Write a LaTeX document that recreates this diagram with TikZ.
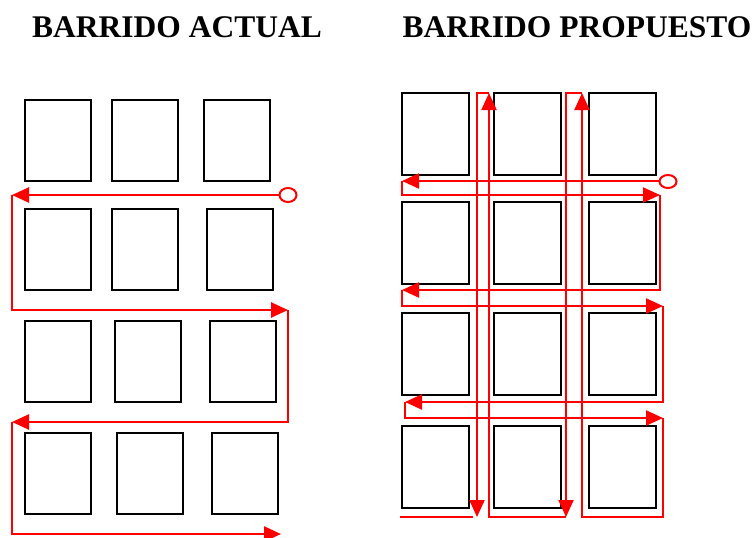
\documentclass[tikz,border=0pt]{standalone}
\usepackage{fontspec}
\setmainfont{Liberation Serif}
\usetikzlibrary{arrows.meta}
\begin{document}
\begin{tikzpicture}[x=1pt,y=-1pt,
  lbox/.style={draw=black,line width=2pt,minimum width=66pt,minimum height=81pt,inner sep=0pt},
  rbox/.style={draw=black,line width=2pt,minimum width=67pt,minimum height=82pt,inner sep=0pt},
  lpath/.style={draw=red,line width=2.6pt,line join=miter},
  rpath/.style={draw=red,line width=2.1pt,line join=miter},
  larr/.style={-{Triangle[length=17pt,width=15pt]}},
  rarr/.style={-{Triangle[length=17pt,width=15pt]}},
  ttl/.style={font=\fontsize{31.5}{36}\selectfont\bfseries,inner sep=0pt,anchor=base}
]
\useasboundingbox (0,0) rectangle (755,538);
% titles
\node[ttl] (t1) at (177,37) {BARRIDO ACTUAL};
\node[ttl] (t2) at (577,37) {BARRIDO PROPUESTO};
% left boxes
\node[lbox] (L11) at (58,140.5) {};
\node[lbox] (L12) at (145,140.5) {};
\node[lbox] (L13) at (237,140.5) {};
\node[lbox] (L21) at (58,249) {};
\node[lbox] (L22) at (145,249) {};
\node[lbox] (L23) at (240,249) {};
\node[lbox] (L31) at (58,361.5) {};
\node[lbox] (L32) at (148,361.5) {};
\node[lbox] (L33) at (243,361.5) {};
\node[lbox] (L41) at (58,473.5) {};
\node[lbox] (L42) at (150,473.5) {};
\node[lbox] (L43) at (245,473.5) {};
% left path
\coordinate (a0) at (279.5,195);
\coordinate (a1) at (12,195);
\coordinate (a2) at (12,310);
\coordinate (a3) at (288,310);
\coordinate (a4) at (288,422);
\coordinate (a5) at (12,422);
\coordinate (a6) at (12,534);
\coordinate (a7) at (281,534);
\draw[red,line width=2pt] (288,195) ellipse [x radius=8.5pt,y radius=7pt];
\draw[lpath,larr] (a0) -- (a1);
\draw[lpath,larr] (a1) -- (a2) -- (a3);
\draw[lpath,larr] (a3) -- (a4) -- (a5);
\draw[lpath,larr] (a5) -- (a6) -- (a7);
% right boxes
\foreach \c/\x in {1/435.5,2/527.5,3/622.5}{
  \foreach \r/\y in {1/134,2/242.5,3/354,4/466.5}{
    \node[rbox] (R\r\c) at (\x,\y) {};
  }
}
% right path
\coordinate (b0) at (659.5,181);
\coordinate (b1) at (402,181);
\coordinate (b2) at (402,195);
\coordinate (b3) at (660,195);
\coordinate (b4) at (660,290);
\coordinate (b5) at (402,290);
\coordinate (b6) at (402,306);
\coordinate (b7) at (663,306);
\coordinate (b8) at (663,402);
\coordinate (b9) at (405,402);
\coordinate (b10) at (405,418);
\coordinate (b11) at (663,418);
\coordinate (b12) at (663,517);
\coordinate (b13) at (582,517);
\coordinate (b14) at (582,93);
\coordinate (b15) at (566,93);
\coordinate (b16) at (566,517);
\coordinate (b17) at (489,517);
\coordinate (b18) at (489,93);
\coordinate (b19) at (477,93);
\coordinate (b20) at (477,517);
\coordinate (c1) at (400,517);
\coordinate (c2) at (473,517);
\draw[red,line width=2pt] (668,181.5) ellipse [x radius=8.5pt,y radius=6.5pt];
\draw[rpath,rarr] (b0) -- (b1);
\draw[rpath,rarr] (b1) -- (b2) -- (b3);
\draw[rpath,rarr] (b3) -- (b4) -- (b5);
\draw[rpath,rarr] (b5) -- (b6) -- (b7);
\draw[rpath,rarr] (b7) -- (b8) -- (b9);
\draw[rpath,rarr] (b9) -- (b10) -- (b11);
\draw[rpath,rarr] (b11) -- (b12) -- (b13) -- (b14);
\draw[rpath,rarr] (b14) -- (b15) -- (b16);
\draw[rpath,rarr] (b16) -- (b17) -- (b18);
\draw[rpath,rarr] (b18) -- (b19) -- (b20);
\draw[rpath] (c1) -- (c2);
\end{tikzpicture}
\end{document}
